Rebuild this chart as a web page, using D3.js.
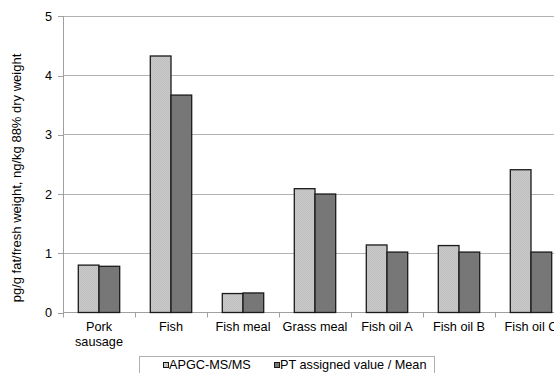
<!DOCTYPE html>
<html><head><meta charset="utf-8">
<script src="https://cdn.jsdelivr.net/npm/d3@7"></script>
<style>body{margin:0;background:#fff;}svg{display:block;font-family:"Liberation Sans",Arial,sans-serif;}</style>
</head><body><svg id="c" width="554" height="373"></svg>
<script>
const categories = [["Pork","sausage"],["Fish"],["Fish meal"],["Grass meal"],["Fish oil A"],["Fish oil B"],["Fish oil C"]];
const seriesNames = ["APGC-MS/MS","PT assigned value / Mean"];
const apgc = [0.80, 4.33, 0.32, 2.09, 1.14, 1.13, 2.41];
const ptMean = [0.78, 3.67, 0.33, 2.00, 1.02, 1.02, 1.02];
const yTicks = [0,1,2,3,4,5];
const yTitle = "pg/g fat/fresh weight, ng/kg 88% dry weight";

const svg = d3.select("#c");
const defs = svg.append("defs");
const pat = defs.append("pattern").attr("id","chk").attr("patternUnits","userSpaceOnUse").attr("width",2).attr("height",2);
pat.append("rect").attr("width",2).attr("height",2).attr("fill","#cbcbcb");
pat.append("rect").attr("width",1).attr("height",1).attr("fill","#bdbdbd");
pat.append("rect").attr("x",1).attr("y",1).attr("width",1).attr("height",1).attr("fill","#bdbdbd");

const fs = 12.7;
const left = 63, step = 72, y0 = 312.5, y5 = 16.3;
const idx = categories.map((d,i)=>i);
const x = d3.scaleBand().domain(idx).range([left, left + step*categories.length]).paddingInner(0.425).paddingOuter(0.2125);
const xs = d3.scaleBand().domain([0,1]).range([0, x.bandwidth()]);
const y = d3.scaleLinear().domain([0,5]).range([y0, y5]);

// gridlines
svg.append("g").selectAll("line").data(yTicks.filter(t=>t>0)).join("line")
  .attr("x1",left).attr("x2",554).attr("y1",d=>y(d)).attr("y2",d=>y(d))
  .attr("stroke","#b3b3b3").attr("stroke-width",1).attr("shape-rendering","crispEdges");

// y axis
const ya = svg.append("g").attr("transform",`translate(${left},0)`)
  .call(d3.axisLeft(y).tickValues(yTicks).tickFormat(d3.format("d")).tickSize(5).tickPadding(6));
ya.select(".domain").attr("stroke","#a0a0a0").attr("shape-rendering","crispEdges");
ya.selectAll(".tick line").attr("stroke","#a0a0a0").attr("shape-rendering","crispEdges");
ya.selectAll("text").attr("font-size",fs).attr("fill","#000").attr("font-family","Liberation Sans, Arial, sans-serif");

// x axis
const xb = d3.scaleLinear().domain([0,categories.length]).range([left,left+step*categories.length]);
svg.append("line").attr("x1",left).attr("x2",554).attr("y1",y0).attr("y2",y0).attr("stroke","#a0a0a0").attr("shape-rendering","crispEdges");
svg.append("g").selectAll("line").data(d3.range(0,categories.length+1)).join("line")
  .attr("x1",d=>Math.round(xb(d))+0.5).attr("x2",d=>Math.round(xb(d))+0.5).attr("y1",y0).attr("y2",y0+5)
  .attr("stroke","#a0a0a0");

// bars
const data = [apgc, ptMean];
const fills = ["url(#chk)","#777777"];
data.forEach((vals,s)=>{
  svg.append("g").selectAll("rect").data(vals).join("rect")
    .attr("x",(d,i)=>x(i)+xs(s))
    .attr("y",d=>y(d))
    .attr("width",xs.bandwidth())
    .attr("height",d=>y0-y(d))
    .attr("fill",fills[s]).attr("stroke","#1a1a1a").attr("stroke-width",1.3);
});

// category labels
const cl = svg.append("g").selectAll("text").data(categories).join("text")
  .attr("x",(d,i)=>x(i)+x.bandwidth()/2).attr("y",331)
  .attr("text-anchor","middle").attr("font-size",fs).attr("fill","#000");
cl.each(function(d){
  const t = d3.select(this);
  d.forEach((line,j)=>t.append("tspan").attr("x",t.attr("x")).attr("dy",j?15:0).text(line));
});

// y title
svg.append("text").attr("transform","translate(21,178) rotate(-90)")
  .attr("text-anchor","middle").attr("font-size",13).attr("fill","#000").text(yTitle);

// legend
const lg = svg.append("g");
lg.append("rect").attr("x",139.5).attr("y",356.5).attr("width",295).attr("height",30)
  .attr("fill","#fff").attr("stroke","#b0b0b0");
const lx = [163, 274];
seriesNames.forEach((n,i)=>{
  lg.append("rect").attr("x",lx[i]+0.5).attr("y",362.5).attr("width",5).attr("height",5)
    .attr("fill",fills[i]).attr("stroke","#1a1a1a").attr("stroke-width",1);
  lg.append("text").attr("x",lx[i]+6).attr("y",368.5).attr("font-size",fs).attr("fill","#000").text(n);
});
</script></body></html>
